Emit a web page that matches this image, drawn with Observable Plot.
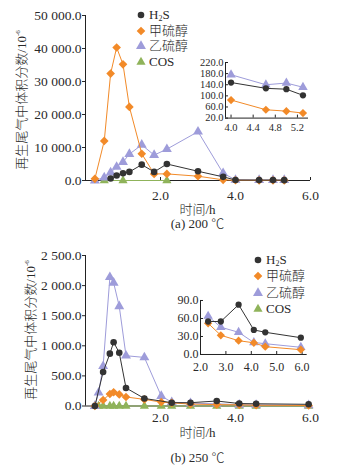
<!DOCTYPE html>
<html><head><meta charset="utf-8">
<script src="https://cdn.jsdelivr.net/npm/d3@7"></script>
<script src="https://cdn.jsdelivr.net/npm/@observablehq/plot@0.6"></script>
<style>
body{margin:0;background:#fff;}
#wrap{position:relative;width:351px;height:466px;overflow:hidden;font-family:"Liberation Serif","Noto Sans CJK SC",serif;color:#2a2a2a;background:#fff;}
#wrap svg{position:absolute;overflow:visible;}
.lab{position:absolute;font-size:13px;white-space:nowrap;line-height:1;font-weight:300;}
.leg{position:absolute;font-size:13px;white-space:nowrap;line-height:1;font-weight:300;}
.leg svg{position:absolute !important;}
</style></head><body><div id="wrap"></div>
<script>
// ---------- data (a) 200 ℃ ----------
const seriesNames = ["H₂S", "甲硫醇", "乙硫醇", "COS"];
const t200_H2S  = [0.67, 0.83, 1.0, 1.17, 1.5, 1.83, 2.17, 3.0, 3.67, 4.0, 4.63, 5.0, 5.3];
const v200_H2S  = [600, 1500, 2200, 2600, 4800, 2600, 5000, 2800, 1100, 148, 127, 124, 102];
const t200_MeSH = [0.25, 0.5, 0.67, 0.83, 1.0, 1.17, 1.5, 1.83, 2.17, 3.0, 3.67, 4.0, 4.63, 5.0, 5.3];
const v200_MeSH = [500, 12000, 32400, 40300, 35200, 22300, 8100, 2000, 2000, 1300, 200, 85, 50, 45, 38];
const t200_EtSH = [0.25, 0.5, 0.67, 0.83, 1.0, 1.17, 1.5, 1.83, 2.17, 3.0, 3.67, 4.0, 4.63, 5.0, 5.3];
const v200_EtSH = [0, 900, 2400, 4100, 5600, 8000, 10800, 7700, 9500, 14800, 2200, 176, 140, 146, 131];
const t200_COS  = [0.5, 1.0, 2.17];
const v200_COS  = [0, 0, 0];
// ---------- data (b) 250 ℃ ----------
const t250_H2S  = [0.25, 0.47, 0.65, 0.75, 0.9, 1.08, 1.57, 2.3, 2.8, 3.5, 4.1, 4.55, 5.95];
const v250_H2S  = [0, 565, 870, 1060, 884, 300, 125, 55, 55, 83, 41, 37, 28];
const t250_MeSH = [0.25, 0.47, 0.65, 0.75, 0.9, 1.08, 1.57, 2.02, 2.3, 2.8, 3.5, 4.1, 4.55, 5.95];
const v250_MeSH = [0, 100, 200, 228, 192, 150, 110, 65, 52, 32, 23, 19.5, 13, 8];
const t250_EtSH = [0.25, 0.35, 0.47, 0.65, 0.75, 0.9, 1.08, 1.57, 2.02, 2.3, 2.8, 3.5, 4.1, 4.55, 5.95];
const v250_EtSH = [0, 222, 662, 2140, 2047, 1655, 835, 807, 165, 64, 45.5, 37, 20, 18, 12];
const t250_COS  = [0.25, 0.35, 0.47, 0.65, 0.75, 0.9, 1.08, 1.57, 2.02, 2.3, 2.8, 3.5, 4.1, 4.55, 5.95];
const v250_COS  = [0, 0, 0, 0, 0, 0, 0, 0, 0, 0, 0, 0, 0, 0, 0];
// ---------- ticks ----------
const xTicksMain = [2, 4, 6];
const yTicks200 = [0, 10000, 20000, 30000, 40000, 50000];
const yTicks250 = [0, 500, 1000, 1500, 2000, 2500];
const xTicksIn200 = [4.0, 4.4, 4.8, 5.2];
const yTicksIn200 = [20, 60, 100, 140, 180, 220];
const xTicksIn250 = [2, 3, 4, 5, 6];
const yTicksIn250 = [0, 30, 60, 90];

const colors = ["#333333", "#f28a28", "#9e9cda", "#8fb35a"];
const symbols = ["circle", "diamond2", "triangle", "triangle"];
const radii = [3.3, 3.9, 3.7, 3.4];

const fmtMain = d3.formatLocale({decimal: ".", thousands: " ", grouping: [3], currency: ["", ""]}).format(",.1f");
const fmt1 = d3.format(".1f");

const rows = (t, v) => t.map((x, i) => ({t: x, v: v[i]}));
const sets200 = [rows(t200_H2S, v200_H2S), rows(t200_MeSH, v200_MeSH), rows(t200_EtSH, v200_EtSH), rows(t200_COS, v200_COS)];
const sets250 = [rows(t250_H2S, v250_H2S), rows(t250_MeSH, v250_MeSH), rows(t250_EtSH, v250_EtSH), rows(t250_COS, v250_COS)];

function seriesMarks(sets, filter, scale = 1) {
  const order = [3, 2, 1, 0];
  const marks = [];
  for (const i of order) {
    const d = sets[i].filter(filter);
    if (!d.length) continue;
    marks.push(Plot.line(d, {x: "t", y: "v", stroke: colors[i], strokeWidth: 1}));
    marks.push(Plot.dot(d, {x: "t", y: "v", symbol: symbols[i], r: radii[i] * scale, fill: colors[i], stroke: "none"}));
  }
  return marks;
}

const baseStyle = {background: "transparent", fontFamily: "'Liberation Serif', serif", color: "#2a2a2a"};
const wrap = document.getElementById("wrap");
function place(el, left, top) { el.style.left = left + "px"; el.style.top = top + "px"; wrap.appendChild(el); }

function mainPlot(sets, yTicks, height, mTop, mBottom, padX) {
  const ph = height - mTop - mBottom;
  return Plot.plot({
    width: 351, height, marginLeft: 85, marginRight: 41, marginTop: mTop, marginBottom: mBottom,
    style: {...baseStyle, fontSize: "13.5px"},
    x: {domain: [0, 6], ticks: xTicksMain, tickFormat: fmt1, tickSize: 0, tickPadding: padX, label: null},
    y: {domain: [0, yTicks[yTicks.length - 1]], ticks: yTicks, tickFormat: fmtMain, tickSize: 3, tickPadding: 1, label: null},
    marks: [
      Plot.ruleX([0], {stroke: "#222"}),
      Plot.ruleY([0], {stroke: "#222"}),
      Plot.tickX(xTicksMain, {insetTop: ph - 3, stroke: "#222"}),
      ...seriesMarks(sets, () => true)
    ]
  });
}

function insetPlot(sets, xd, yd, xt, yt, w, h, ml, mr, mt, mb, padX, padY, tmin, fs) {
  const pw = w - ml - mr, ph = h - mt - mb;
  return Plot.plot({
    width: w, height: h, marginLeft: ml, marginRight: mr, marginTop: mt, marginBottom: mb,
    style: {...baseStyle, fontSize: fs},
    x: {domain: xd, ticks: xt, tickFormat: fmt1, tickSize: 0, tickPadding: padX, label: null},
    y: {domain: yd, ticks: yt, tickFormat: fmt1, tickSize: 0, tickPadding: padY, label: null},
    marks: [
      Plot.ruleX([xd[0]], {stroke: "#222"}),
      Plot.ruleY([yd[0]], {stroke: "#222"}),
      Plot.tickX(xt, {insetTop: ph - 3, stroke: "#222"}),
      Plot.tickY(yt, {insetRight: pw - 3, stroke: "#222"}),
      ...seriesMarks(sets.slice(0, 3).concat([[]]), d => d.t >= tmin, 0.95)
    ]
  });
}

// main plots
place(mainPlot(sets200, yTicks200, 200, 15, 20, 10), 0, 0);
place(mainPlot(sets250, yTicks250, 193.5, 23, 20, 6), 0, 232);
// insets
place(insetPlot(sets200, [3.9, 5.4], [20, 220], xTicksIn200, yTicksIn200, 128, 78, 40, 5, 6, 16.4, 5, 2, 3.9, "10.5px"), 185, 55.7);
place(insetPlot(sets250, [2, 6.2], [0, 90], xTicksIn250, yTicksIn250, 146.7, 78, 34, 6, 6, 18, 8, 2, 2.2, "12px"), 166, 294);

// legends
function legend(x, ys) {
  seriesNames.forEach((name, i) => {
    const div = document.createElement("div");
    div.className = "leg";
    const sym = {circle: d3.symbolCircle, diamond2: d3.symbolDiamond2, triangle: d3.symbolTriangle}[symbols[i]];
    const r = radii[i];
    const path = d3.symbol(sym, Math.PI * r * r)();
    const label = i === 0 ? "H<sub style='font-size:8px;vertical-align:-2px'>2</sub>S" : name;
    div.innerHTML = `<svg width="12" height="12" style="left:-6px;top:-6px"><path d="${path}" transform="translate(6,6)" fill="${colors[i]}"/></svg><span style="position:absolute;left:8px;top:-7px">${label}</span>`;
    place(div, x, ys[i]);
  });
}
legend(141, [15, 30.7, 46.3, 62]);
legend(258, [260, 276.3, 292.6, 309]);

// texts
function text(html, cx, cy, rotate) {
  const div = document.createElement("div");
  div.className = "lab";
  div.innerHTML = html;
  div.style.transform = rotate ? "translate(-50%,-50%) rotate(-90deg)" : "translate(-50%,-50%)";
  place(div, cx, cy);
}
const yTitle = "再生尾气中体积分数/10<sup style='font-size:7px;vertical-align:6px'>-6</sup>";
text(yTitle, 21, 100, true);
text(yTitle, 30, 330, true);
text("时间/h", 197.5, 208.5);
text("(a) 200 ℃", 197.5, 222.5);
text("时间/h", 197.5, 431.5);
text("(b) 250 ℃", 197.5, 457);
</script>
</body></html>
